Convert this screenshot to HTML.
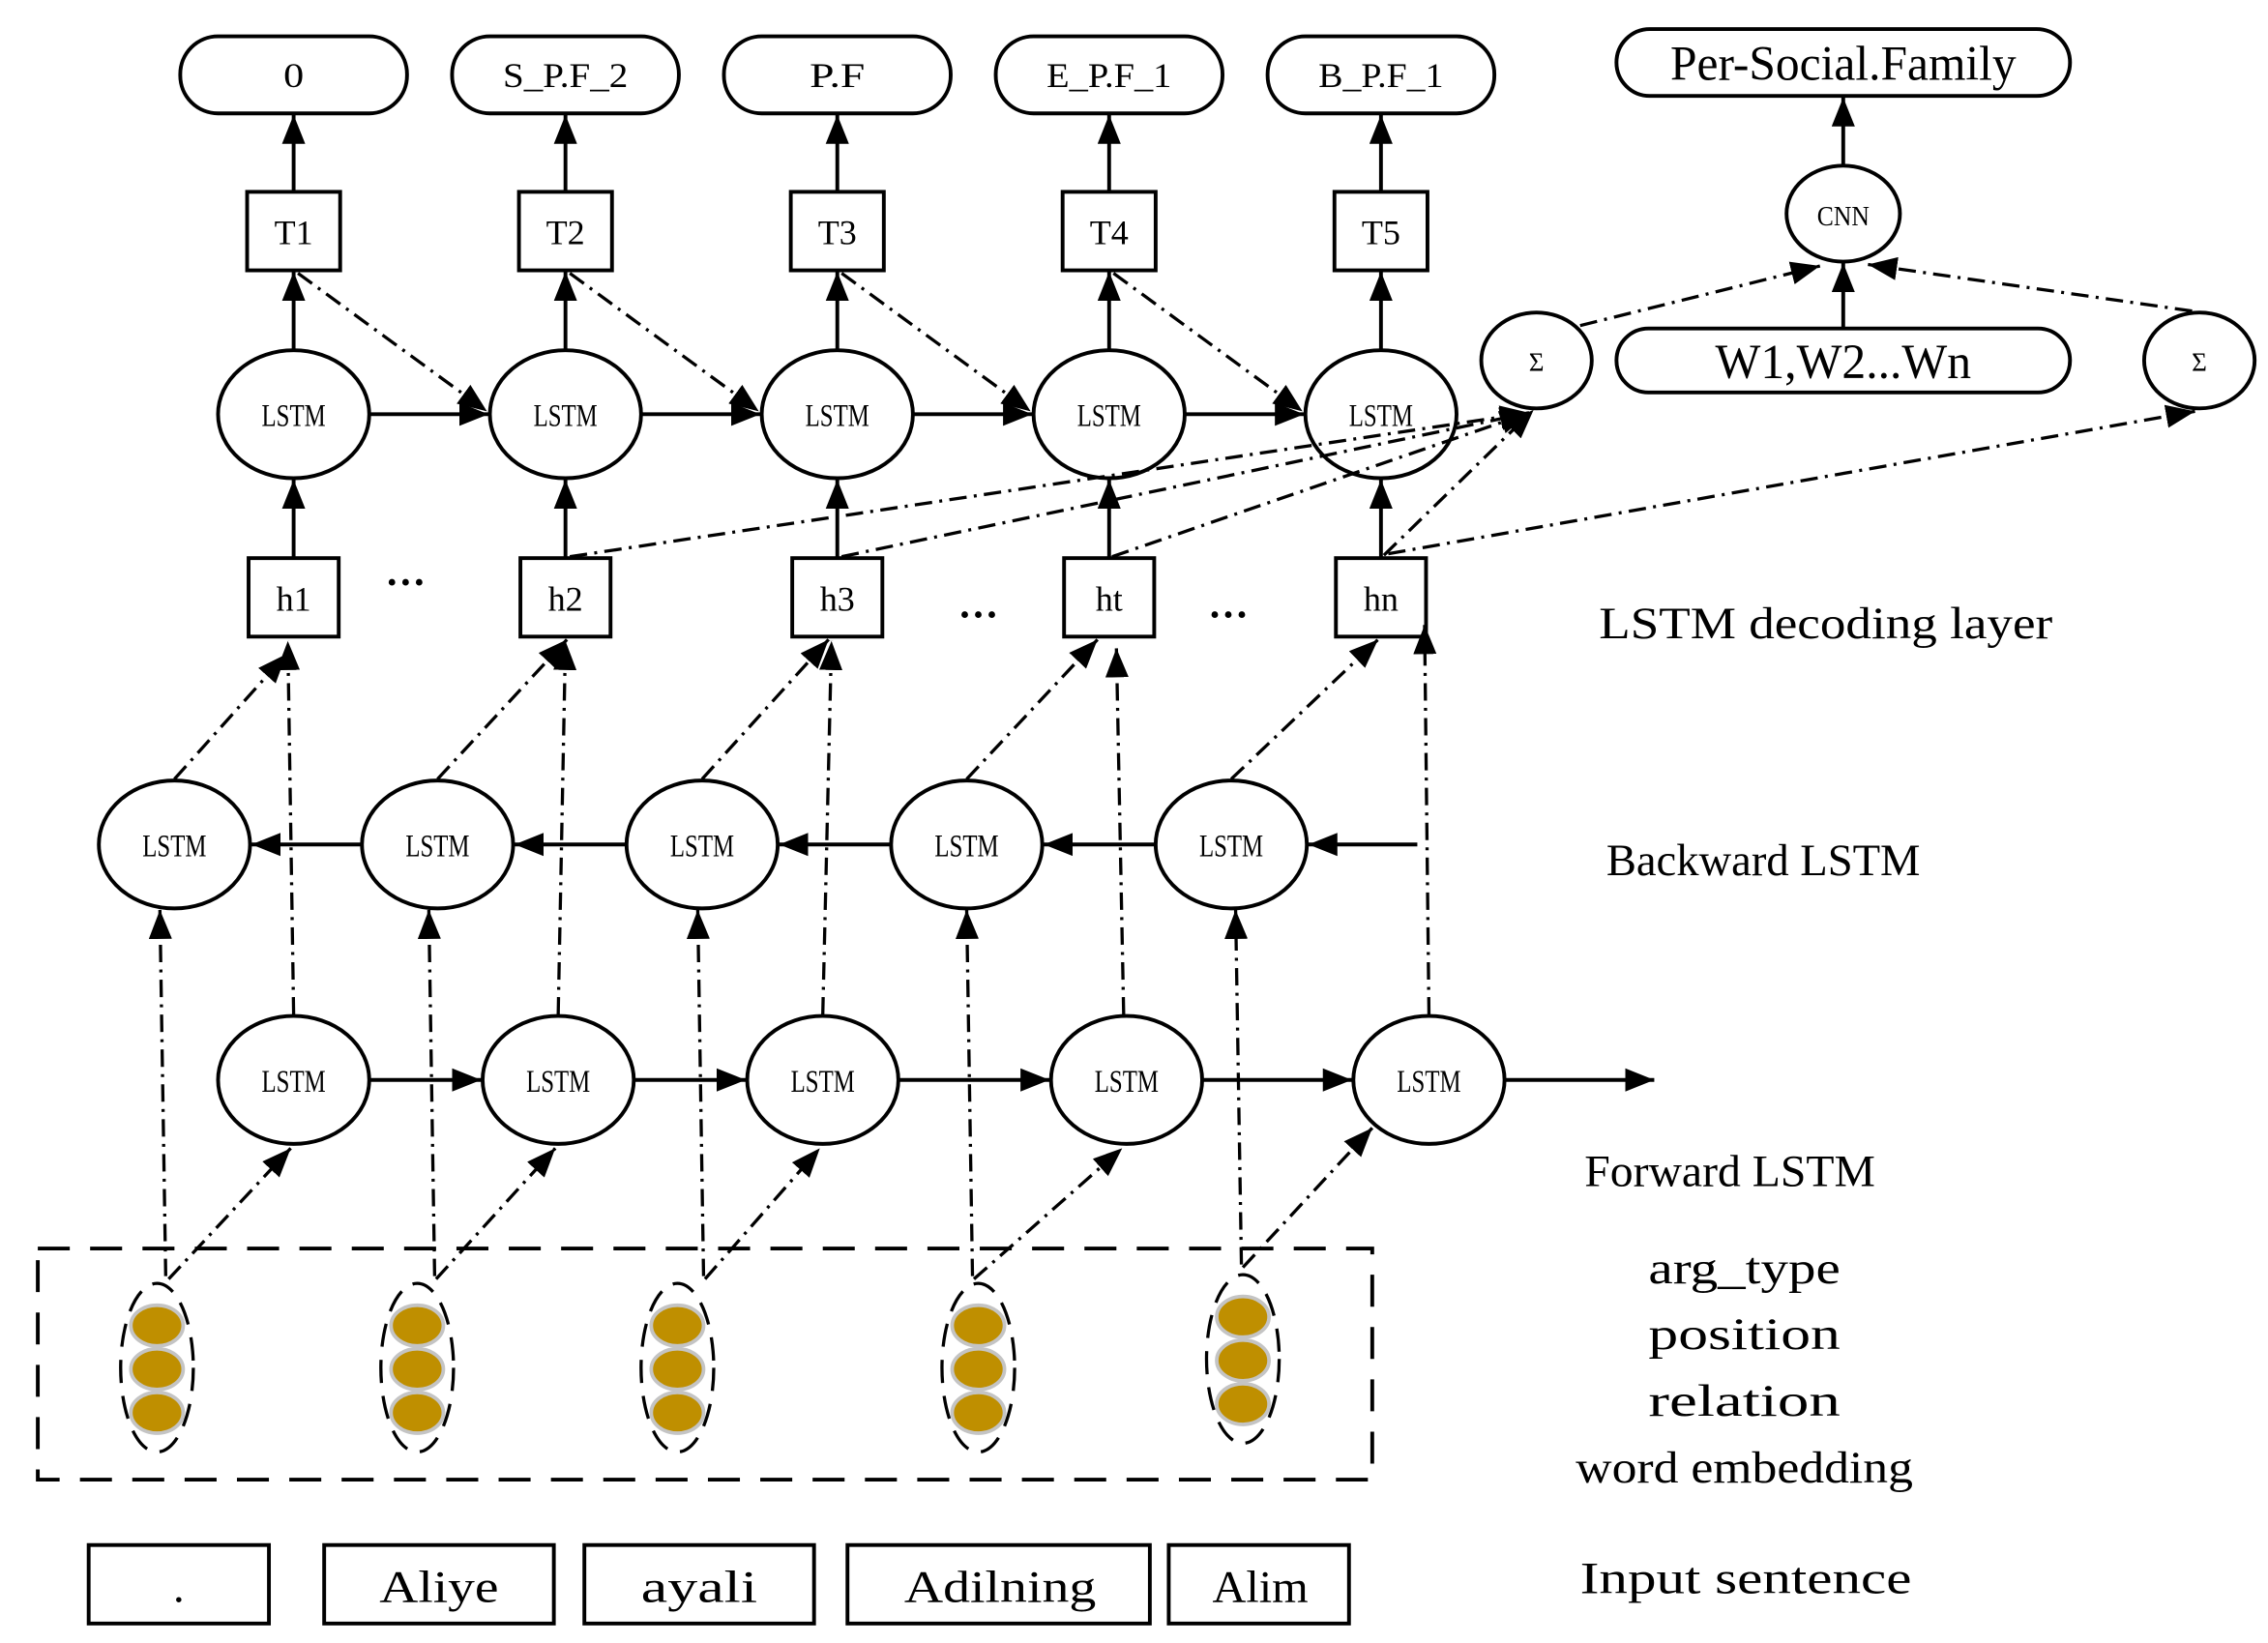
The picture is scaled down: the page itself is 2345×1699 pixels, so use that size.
<!DOCTYPE html>
<html><head><meta charset="utf-8"><style>
html,body{margin:0;padding:0;background:#fff;}
svg{display:block;}
text{font-family:"Liberation Serif",serif;fill:#000;}
</style></head><body>
<svg width="2345" height="1699" viewBox="0 0 1560.2 1130.4" xmlns="http://www.w3.org/2000/svg">
<defs>
<marker id="a" viewBox="0 0 10 10" refX="10" refY="5" markerWidth="9" markerHeight="9" markerUnits="userSpaceOnUse" orient="auto">
<path d="M0,0 L10,5 L0,10 z" fill="#000"/></marker>
<marker id="b" viewBox="0 0 10 10" refX="10" refY="5" markerWidth="20" markerHeight="16" markerUnits="userSpaceOnUse" orient="auto" preserveAspectRatio="none">
<path d="M0,0 L10,5 L0,10 z" fill="#000"/></marker>
<radialGradient id="g" cx="50%" cy="50%" r="50%"><stop offset="70%" stop-color="#a8c8ec"/><stop offset="100%" stop-color="#fff" stop-opacity="0"/></radialGradient>
</defs>
<g fill="none" stroke="#000" stroke-width="2.6">
<!-- output boxes -->
<rect x="124" y="25" width="156" height="53" rx="26"/>
<rect x="311" y="25" width="156" height="53" rx="26"/>
<rect x="498" y="25" width="156" height="53" rx="26"/>
<rect x="685" y="25" width="156" height="53" rx="26"/>
<rect x="872" y="25" width="156" height="53" rx="26"/>
<rect x="1112" y="20" width="312" height="46" rx="23"/>
<rect x="1112" y="226" width="312" height="44" rx="22"/>
<!-- T boxes -->
<rect x="170" y="132" width="64" height="54"/>
<rect x="357" y="132" width="64" height="54"/>
<rect x="544" y="132" width="64" height="54"/>
<rect x="731" y="132" width="64" height="54"/>
<rect x="918" y="132" width="64" height="54"/>
<!-- h boxes -->
<rect x="171" y="384" width="62" height="54"/>
<rect x="358" y="384" width="62" height="54"/>
<rect x="545" y="384" width="62" height="54"/>
<rect x="732" y="384" width="62" height="54"/>
<rect x="919" y="384" width="62" height="54"/>
<!-- decoder LSTMs -->
<ellipse cx="202" cy="285" rx="52" ry="44"/>
<ellipse cx="389" cy="285" rx="52" ry="44"/>
<ellipse cx="576" cy="285" rx="52" ry="44"/>
<ellipse cx="763" cy="285" rx="52" ry="44"/>
<ellipse cx="950" cy="285" rx="52" ry="44"/>
<!-- CNN, sigma -->
<ellipse cx="1268" cy="147" rx="39" ry="33"/>
<ellipse cx="1057" cy="248" rx="38" ry="33"/>
<ellipse cx="1513" cy="248" rx="38" ry="33"/>
<!-- backward -->
<ellipse cx="120" cy="581" rx="52" ry="44"/>
<ellipse cx="301" cy="581" rx="52" ry="44"/>
<ellipse cx="483" cy="581" rx="52" ry="44"/>
<ellipse cx="665" cy="581" rx="52" ry="44"/>
<ellipse cx="847" cy="581" rx="52" ry="44"/>
<!-- forward -->
<ellipse cx="202" cy="743" rx="52" ry="44"/>
<ellipse cx="384" cy="743" rx="52" ry="44"/>
<ellipse cx="566" cy="743" rx="52" ry="44"/>
<ellipse cx="775" cy="743" rx="52" ry="44"/>
<ellipse cx="983" cy="743" rx="52" ry="44"/>
<!-- input boxes -->
<rect x="61" y="1063" width="124" height="54"/>
<rect x="223" y="1063" width="158" height="54"/>
<rect x="402" y="1063" width="158" height="54"/>
<rect x="583" y="1063" width="208" height="54"/>
<rect x="804" y="1063" width="124" height="54"/>
<!-- solid arrows -->
<g marker-end="url(#b)">
<line x1="202" y1="132" x2="202" y2="79"/><line x1="389" y1="132" x2="389" y2="79"/><line x1="576" y1="132" x2="576" y2="79"/><line x1="763" y1="132" x2="763" y2="79"/><line x1="950" y1="132" x2="950" y2="79"/>
<line x1="202" y1="241" x2="202" y2="187"/><line x1="389" y1="241" x2="389" y2="187"/><line x1="576" y1="241" x2="576" y2="187"/><line x1="763" y1="241" x2="763" y2="187"/><line x1="950" y1="241" x2="950" y2="187"/>
<line x1="202" y1="384" x2="202" y2="330"/><line x1="389" y1="384" x2="389" y2="330"/><line x1="576" y1="384" x2="576" y2="330"/><line x1="763" y1="384" x2="763" y2="330"/><line x1="950" y1="384" x2="950" y2="330"/>
<line x1="254" y1="285" x2="336" y2="285"/><line x1="441" y1="285" x2="523" y2="285"/><line x1="628" y1="285" x2="710" y2="285"/><line x1="815" y1="285" x2="897" y2="285"/>
<line x1="1268" y1="114" x2="1268" y2="67"/><line x1="1268" y1="226" x2="1268" y2="181"/>
<line x1="975" y1="581" x2="900" y2="581"/><line x1="795" y1="581" x2="718" y2="581"/><line x1="613" y1="581" x2="536" y2="581"/><line x1="431" y1="581" x2="354" y2="581"/><line x1="249" y1="581" x2="173" y2="581"/>
<line x1="254" y1="743" x2="331" y2="743"/><line x1="436" y1="743" x2="513" y2="743"/><line x1="618" y1="743" x2="722" y2="743"/><line x1="827" y1="743" x2="930" y2="743"/><line x1="1035" y1="743" x2="1138" y2="743"/>
</g>
<!-- dash-dot arrows -->
<g stroke-dasharray="12 5 2 5" marker-end="url(#b)" stroke-width="2.2">
<line x1="205" y1="188" x2="335" y2="283"/><line x1="392" y1="188" x2="522" y2="283"/><line x1="579" y1="188" x2="709" y2="283"/><line x1="766" y1="188" x2="896" y2="283"/>
<line x1="1087" y1="224" x2="1252" y2="183"/><line x1="1508" y1="214" x2="1285" y2="182"/>
<line x1="392" y1="383" x2="1052" y2="284"/><line x1="579" y1="383" x2="1052" y2="284"/><line x1="765" y1="383" x2="1052" y2="284"/><line x1="952" y1="382" x2="1055" y2="282"/><line x1="955" y1="381" x2="1510" y2="283"/>
<line x1="120" y1="536" x2="197" y2="450"/><line x1="301" y1="536" x2="390" y2="440"/><line x1="483" y1="536" x2="570" y2="440"/><line x1="665" y1="536" x2="755" y2="440"/><line x1="847" y1="536" x2="948" y2="440"/>
<line x1="202" y1="698" x2="198" y2="441"/><line x1="384" y1="698" x2="389" y2="441"/><line x1="566" y1="698" x2="572" y2="441"/><line x1="773" y1="698" x2="768" y2="446"/><line x1="983" y1="698" x2="980" y2="430"/>
<line x1="114" y1="878" x2="110" y2="626"/><line x1="299" y1="878" x2="295" y2="626"/><line x1="484" y1="878" x2="480" y2="626"/><line x1="669" y1="878" x2="665" y2="626"/><line x1="854" y1="870" x2="850" y2="626"/>
<line x1="116" y1="880" x2="200" y2="790"/><line x1="300" y1="880" x2="382" y2="790"/><line x1="485" y1="880" x2="564" y2="790"/><line x1="670" y1="880" x2="772" y2="790"/><line x1="855" y1="872" x2="944" y2="776"/>
</g>
<rect x="26" y="859" width="918" height="159" stroke-dasharray="22 14"/>
<!-- pills -->
<g stroke-dasharray="16 9" stroke-width="2.2">
<ellipse cx="108" cy="941" rx="25" ry="58"/><ellipse cx="287" cy="941" rx="25" ry="58"/><ellipse cx="466" cy="941" rx="25" ry="58"/><ellipse cx="673" cy="941" rx="25" ry="58"/><ellipse cx="855" cy="935" rx="25" ry="58"/>
</g>
</g>
<g fill="#bf8f00" stroke="#c4c4c4" stroke-width="2.5">
<ellipse cx="108" cy="912" rx="18" ry="14"/><ellipse cx="108" cy="942" rx="18" ry="14"/><ellipse cx="108" cy="972" rx="18" ry="14"/>
<ellipse cx="287" cy="912" rx="18" ry="14"/><ellipse cx="287" cy="942" rx="18" ry="14"/><ellipse cx="287" cy="972" rx="18" ry="14"/>
<ellipse cx="466" cy="912" rx="18" ry="14"/><ellipse cx="466" cy="942" rx="18" ry="14"/><ellipse cx="466" cy="972" rx="18" ry="14"/>
<ellipse cx="673" cy="912" rx="18" ry="14"/><ellipse cx="673" cy="942" rx="18" ry="14"/><ellipse cx="673" cy="972" rx="18" ry="14"/>
<ellipse cx="855" cy="906" rx="18" ry="14"/><ellipse cx="855" cy="936" rx="18" ry="14"/><ellipse cx="855" cy="966" rx="18" ry="14"/>
</g>
<!-- text -->
<g text-anchor="middle" font-size="24">
<text x="202" y="60" textLength="14" lengthAdjust="spacingAndGlyphs">0</text>
<text x="389" y="60" textLength="86" lengthAdjust="spacingAndGlyphs">S_P.F_2</text>
<text x="576" y="60" textLength="38" lengthAdjust="spacingAndGlyphs">P.F</text>
<text x="763" y="60" textLength="86" lengthAdjust="spacingAndGlyphs">E_P.F_1</text>
<text x="950" y="60" textLength="86" lengthAdjust="spacingAndGlyphs">B_P.F_1</text>
<text x="1268" y="55" font-size="34" textLength="238" lengthAdjust="spacingAndGlyphs">Per-Social.Family</text>
<text x="1268" y="260" font-size="34" textLength="176" lengthAdjust="spacingAndGlyphs">W1,W2...Wn</text>
<text x="1268" y="155" font-size="19" textLength="36" lengthAdjust="spacingAndGlyphs">CNN</text>
<text x="1057" y="255" font-size="18">Σ</text><text x="1513" y="255" font-size="18">Σ</text>
<text x="202" y="168">T1</text><text x="389" y="168">T2</text><text x="576" y="168">T3</text><text x="763" y="168">T4</text><text x="950" y="168">T5</text>
<text x="202" y="420">h1</text><text x="389" y="420">h2</text><text x="576" y="420">h3</text><text x="763" y="420">ht</text><text x="950" y="420">hn</text>
<g font-size="22">
<text x="202" y="293" textLength="44" lengthAdjust="spacingAndGlyphs">LSTM</text><text x="389" y="293" textLength="44" lengthAdjust="spacingAndGlyphs">LSTM</text><text x="576" y="293" textLength="44" lengthAdjust="spacingAndGlyphs">LSTM</text><text x="763" y="293" textLength="44" lengthAdjust="spacingAndGlyphs">LSTM</text><text x="950" y="293" textLength="44" lengthAdjust="spacingAndGlyphs">LSTM</text>
<text x="120" y="589" textLength="44" lengthAdjust="spacingAndGlyphs">LSTM</text><text x="301" y="589" textLength="44" lengthAdjust="spacingAndGlyphs">LSTM</text><text x="483" y="589" textLength="44" lengthAdjust="spacingAndGlyphs">LSTM</text><text x="665" y="589" textLength="44" lengthAdjust="spacingAndGlyphs">LSTM</text><text x="847" y="589" textLength="44" lengthAdjust="spacingAndGlyphs">LSTM</text>
<text x="202" y="751" textLength="44" lengthAdjust="spacingAndGlyphs">LSTM</text><text x="384" y="751" textLength="44" lengthAdjust="spacingAndGlyphs">LSTM</text><text x="566" y="751" textLength="44" lengthAdjust="spacingAndGlyphs">LSTM</text><text x="775" y="751" textLength="44" lengthAdjust="spacingAndGlyphs">LSTM</text><text x="983" y="751" textLength="44" lengthAdjust="spacingAndGlyphs">LSTM</text>
</g>
<text x="279" y="410" font-size="28" font-weight="bold">···</text>
<text x="673" y="432" font-size="28" font-weight="bold">···</text>
<text x="845" y="432" font-size="28" font-weight="bold">···</text>
<g font-size="31">
<text x="123" y="1102">.</text>
<text x="302" y="1102" textLength="82" lengthAdjust="spacingAndGlyphs">Aliye</text>
<text x="481" y="1102" textLength="80" lengthAdjust="spacingAndGlyphs">ayali</text>
<text x="688" y="1102" textLength="132" lengthAdjust="spacingAndGlyphs">Adilning</text>
<text x="867" y="1102" textLength="66" lengthAdjust="spacingAndGlyphs">Alim</text>
</g>
</g>
<g font-size="31">
<text x="1100" y="439" textLength="312" lengthAdjust="spacingAndGlyphs">LSTM decoding layer</text>
<text x="1105" y="602" textLength="216" lengthAdjust="spacingAndGlyphs">Backward LSTM</text>
<text x="1090" y="816" textLength="200" lengthAdjust="spacingAndGlyphs">Forward LSTM</text>
<text x="1134" y="883" textLength="132" lengthAdjust="spacingAndGlyphs">arg_type</text>
<text x="1134" y="928" textLength="132" lengthAdjust="spacingAndGlyphs">position</text>
<text x="1134" y="974" textLength="132" lengthAdjust="spacingAndGlyphs">relation</text>
<text x="1084" y="1020" textLength="232" lengthAdjust="spacingAndGlyphs">word embedding</text>
<text x="1087" y="1096" textLength="228" lengthAdjust="spacingAndGlyphs">Input sentence</text>
</g>
</svg>
</body></html>
